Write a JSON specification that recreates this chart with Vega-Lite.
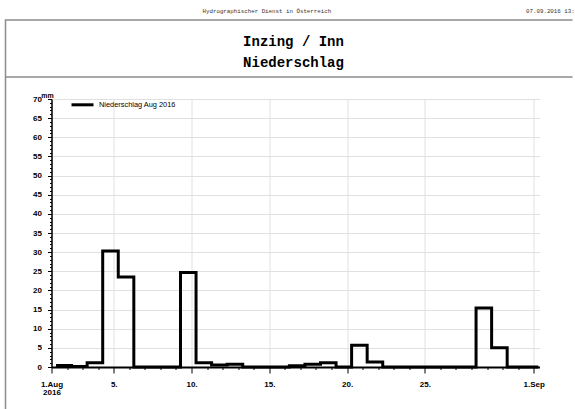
{
  "$schema": "https://vega.github.io/schema/vega-lite/v6.json",
  "padding": {"left": 4.5, "top": 6, "right": 0, "bottom": 0},
  "background": "white",
  "bounds": "flush",
  "spacing": 0,
  "resolve": {"scale": {"color": "independent"}, "legend": {"color": "independent"}},
  "config": {
    "view": {"stroke": null},
    "font": "Liberation Sans",
    "axis": {
      "labelFont": "Liberation Sans",
      "labelFontWeight": "bold",
      "labelFontSize": 8,
      "labelColor": "black",
      "domainColor": "black",
      "tickColor": "black",
      "gridColor": "#e0e0e0",
      "gridWidth": 1
    }
  },
  "vconcat": [
    {
      "width": 567,
      "height": 57,
      "view": {"stroke": "#8c8c8c", "strokeWidth": 1.5, "strokeDash": [567, 57, 700]},
      "title": {
        "text": "Hydrographischer Dienst in Österreich\u00a0\u00a0\u00a0\u00a0\u00a0\u00a0\u00a0\u00a0\u00a0\u00a0\u00a0\u00a0\u00a0\u00a0\u00a0\u00a0\u00a0\u00a0\u00a0\u00a0\u00a0\u00a0\u00a0\u00a0\u00a0\u00a0\u00a0\u00a0\u00a0\u00a0\u00a0\u00a0\u00a0\u00a0\u00a0\u00a0\u00a0\u00a0\u00a0\u00a0\u00a0\u00a0\u00a0\u00a0\u00a0\u00a0\u00a0\u00a0\u00a0\u00a0\u00a0\u00a0\u00a0\u00a0\u00a0\u00a007.09.2016 13:",
        "anchor": "start",
        "frame": "group",
        "dx": 197,
        "offset": 6.5,
        "font": "Liberation Mono",
        "fontSize": 5.8,
        "fontWeight": "normal",
        "color": "#333333"
      },
      "data": {"values": [{"zeile": "Inzing / Inn"}, {"zeile": "Niederschlag"}]},
      "mark": {"type": "text", "font": "Liberation Mono", "fontSize": 14, "fontWeight": "bold", "baseline": "alphabetic", "dx": 4.5, "color": "black"},
      "encoding": {
        "y": {"field": "zeile", "type": "ordinal", "scale": {"type": "point", "padding": 0.877, "align": 0.716}, "axis": null},
        "text": {"field": "zeile"}
      }
    },
    {
      "bounds": "flush",
      "spacing": 45,
      "resolve": {"scale": {"color": "independent"}, "legend": {"color": "independent"}},
      "hconcat": [
        {
          "width": 1,
          "height": 333,
          "view": {"stroke": "#8c8c8c", "strokeWidth": 1.5, "strokeDash": [0, 335, 340]},
          "data": {"values": []},
          "mark": "point"
        },
        {
          "bounds": "flush",
          "spacing": 21,
          "resolve": {"scale": {"color": "independent"}, "legend": {"color": "independent"}},
          "vconcat": [
            {
              "width": 488,
              "height": 1,
              "data": {"values": []},
              "mark": "point"
            },
            {
              "width": 488,
              "height": 268,
              "data": {"values": [
                {"zeit": "2016-08-01T07:00", "mm": 0.4},
                {"zeit": "2016-08-02T07:00", "mm": 0.1},
                {"zeit": "2016-08-03T07:00", "mm": 1.1},
                {"zeit": "2016-08-04T07:00", "mm": 30.3},
                {"zeit": "2016-08-05T07:00", "mm": 23.5},
                {"zeit": "2016-08-06T07:00", "mm": 0},
                {"zeit": "2016-08-07T07:00", "mm": 0},
                {"zeit": "2016-08-08T07:00", "mm": 0},
                {"zeit": "2016-08-09T07:00", "mm": 24.7},
                {"zeit": "2016-08-10T07:00", "mm": 1.1},
                {"zeit": "2016-08-11T07:00", "mm": 0.5},
                {"zeit": "2016-08-12T07:00", "mm": 0.7},
                {"zeit": "2016-08-13T07:00", "mm": 0},
                {"zeit": "2016-08-14T07:00", "mm": 0},
                {"zeit": "2016-08-15T07:00", "mm": 0},
                {"zeit": "2016-08-16T07:00", "mm": 0.3},
                {"zeit": "2016-08-17T07:00", "mm": 0.7},
                {"zeit": "2016-08-18T07:00", "mm": 1.1},
                {"zeit": "2016-08-19T07:00", "mm": 0},
                {"zeit": "2016-08-20T07:00", "mm": 5.7},
                {"zeit": "2016-08-21T07:00", "mm": 1.3},
                {"zeit": "2016-08-22T07:00", "mm": 0},
                {"zeit": "2016-08-23T07:00", "mm": 0},
                {"zeit": "2016-08-24T07:00", "mm": 0},
                {"zeit": "2016-08-25T07:00", "mm": 0},
                {"zeit": "2016-08-26T07:00", "mm": 0},
                {"zeit": "2016-08-27T07:00", "mm": 0},
                {"zeit": "2016-08-28T07:00", "mm": 15.4},
                {"zeit": "2016-08-29T07:00", "mm": 5.0},
                {"zeit": "2016-08-30T07:00", "mm": 0},
                {"zeit": "2016-08-31T07:00", "mm": 0},
                {"zeit": "2016-09-01T07:00", "mm": 0}
              ]},
              "mark": {"type": "line", "interpolate": "step-after", "strokeWidth": 3, "strokeJoin": "miter", "strokeCap": "butt"},
              "encoding": {
                "x": {
                  "field": "zeit",
                  "type": "temporal",
                  "scale": {"domain": [{"year": 2016, "month": 8, "date": 1}, {"year": 2016, "month": 9, "date": 1, "hours": 8, "minutes": 52}], "nice": false},
                  "axis": {
                    "title": null,
                    "tickCount": {"interval": "day", "step": 1},
                    "grid": true,
                    "gridOpacity": {"condition": {"test": "(date(datum.value) % 5 == 0 && date(datum.value) < 30) || date(datum.value) == 1", "value": 1}, "value": 0},
                    "tickSize": {"condition": {"test": "(date(datum.value) % 5 == 0 && date(datum.value) < 30) || date(datum.value) == 1", "value": 6}, "value": 2.5},
                    "labelExpr": "month(datum.value) == 7 && date(datum.value) == 1 ? ['1.Aug', '2016'] : (month(datum.value) == 8 ? '1.Sep' : ((date(datum.value) % 5 == 0 && date(datum.value) < 30) ? date(datum.value) + '.' : ''))",
                    "labelFlush": false,
                    "labelOverlap": false,
                    "labelBound": false,
                    "labelPadding": 7,
                    "labelLineHeight": 8.5,
                    "domainWidth": 2
                  }
                },
                "y": {
                  "field": "mm",
                  "type": "quantitative",
                  "scale": {"domain": [0, 70], "nice": false},
                  "axis": {
                    "title": "mm",
                    "titleAngle": 0,
                    "titleX": -4.5,
                    "titleY": -1.5,
                    "titleAlign": "center",
                    "titleBaseline": "alphabetic",
                    "titleFontSize": 7,
                    "titleFontWeight": "bold",
                    "titleColor": "black",
                    "tickCount": 70,
                    "grid": true,
                    "gridOpacity": {"condition": {"test": "datum.value % 5 == 0", "value": 1}, "value": 0},
                    "tickSize": {"condition": {"test": "datum.value % 5 == 0", "value": 4}, "value": 2},
                    "labelExpr": "datum.value % 5 == 0 ? datum.label : ''",
                    "labelOverlap": false,
                    "labelFlush": false,
                    "labelPadding": 6,
                    "labelFontSize": 8,
                    "domainWidth": 1.5
                  }
                },
                "color": {
                  "datum": "Niederschlag Aug 2016",
                  "scale": {"range": ["black"]},
                  "legend": {
                    "title": null,
                    "orient": "none",
                    "legendX": 18.5,
                    "legendY": -6.7,
                    "symbolType": "stroke",
                    "symbolSize": 484,
                    "symbolStrokeWidth": 3,
                    "labelFontSize": 7.4,
                    "labelFont": "Liberation Sans",
                    "labelColor": "black",
                    "labelOffset": 4,
                    "padding": 0
                  }
                }
              }
            }
          ]
        }
      ]
    }
  ]
}
